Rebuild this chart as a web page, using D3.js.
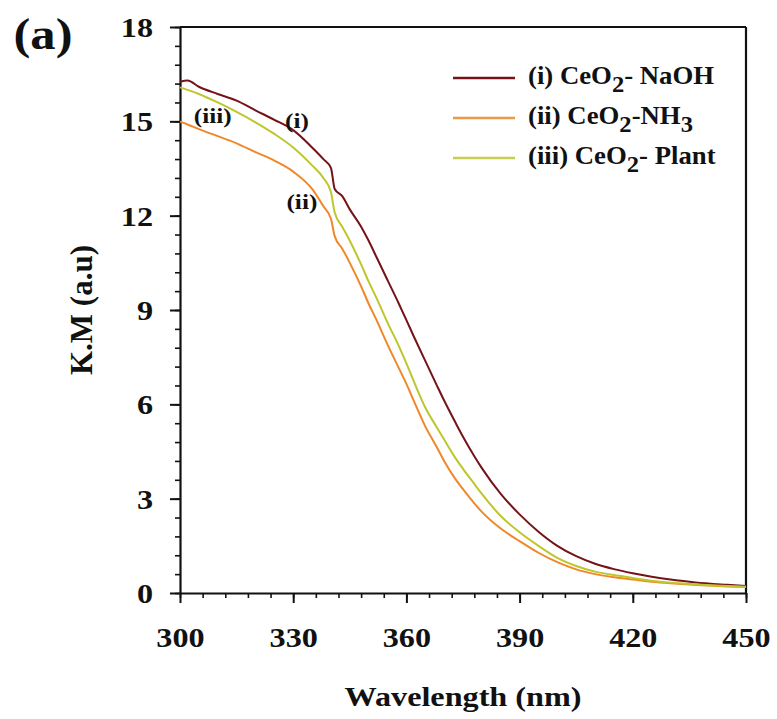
<!DOCTYPE html>
<html>
<head>
<meta charset="utf-8">
<script src="https://cdn.jsdelivr.net/npm/d3@7"></script>
<style>
  body { margin: 0; background: #fff; }
  text { font-family: "Liberation Serif", "Times New Roman", serif; font-weight: bold; fill: #111; }
</style>
</head>
<body>
<div id="chart"></div>
<script>
// wavelength grid (nm) shared by the three spectra
const wavelength = [300,302,305,310,315,320,325,330,335,338,340,341,343,345,348,350,352,355,358,360,362,365,368,370,373,375,378,380,385,390,395,400,405,410,415,420,425,430,435,440,445,450];

// K.M values
const naoh  = [16.26,16.3,16.1,15.87,15.66,15.35,15.05,14.72,14.17,13.8,13.52,12.85,12.62,12.2,11.65,11.2,10.7,9.95,9.2,8.68,8.15,7.38,6.62,6.12,5.42,4.97,4.35,3.97,3.15,2.5,1.95,1.5,1.17,0.93,0.76,0.63,0.52,0.43,0.36,0.3,0.26,0.22];
const nh3   = [14.99,14.9,14.75,14.53,14.3,14.02,13.75,13.4,12.85,12.3,11.9,11.35,10.95,10.5,9.75,9.2,8.7,7.9,7.15,6.65,6.1,5.3,4.65,4.2,3.62,3.3,2.85,2.58,2.05,1.65,1.28,0.98,0.75,0.6,0.5,0.43,0.36,0.31,0.27,0.24,0.21,0.19];
const plant = [16.08,16.0,15.87,15.6,15.3,14.97,14.6,14.17,13.6,13.2,12.75,12.1,11.65,11.2,10.45,9.9,9.4,8.6,7.85,7.3,6.72,5.9,5.28,4.88,4.29,3.95,3.47,3.15,2.45,1.93,1.5,1.12,0.86,0.68,0.57,0.48,0.39,0.33,0.29,0.25,0.22,0.2];

const xTicks = [300,330,360,390,420,450];
const yTicks = [0,3,6,9,12,15,18];

// legend labels: [text, isSubscript]
const legendLabels = [
  [["(i) CeO",0],["2",1],["- NaOH",0]],
  [["(ii) CeO",0],["2",1],["-NH",0],["3",1]],
  [["(iii) CeO",0],["2",1],["- Plant",0]]
];
const colors = ["#741318", "#f0882a", "#bdc72c"];
const legendColors = ["#741318", "#e89a44", "#c8cf4e"];

var margin = {top: 27, right: 31, bottom: 126, left: 180},
    width = 777 - margin.left - margin.right,
    height = 719 - margin.top - margin.bottom;

var svg = d3.select("#chart")
  .append("svg")
    .attr("width", 777)
    .attr("height", 719)
  .append("g")
    .attr("transform", "translate(" + margin.left + "," + margin.top + ")");

var x = d3.scaleLinear().domain([300, 450]).range([0, width]);
var y = d3.scaleLinear().domain([0, 18]).range([height, 0]);

const sx = 1.15; // the original lettering is a bit wider than Liberation Serif

// minor ticks
svg.append("g")
  .attr("transform", "translate(0," + height + ")")
  .call(d3.axisBottom(x).tickValues(d3.range(300, 451, 6)).tickSize(5).tickFormat(""))
  .call(g => g.select(".domain").remove())
  .selectAll("line").attr("stroke", "#111").attr("stroke-width", 1.6);
svg.append("g")
  .call(d3.axisLeft(y).tickValues(d3.range(0, 18.01, 0.6)).tickSize(5).tickFormat(""))
  .call(g => g.select(".domain").remove())
  .selectAll("line").attr("stroke", "#111").attr("stroke-width", 1.6);

// X axis
var xAxis = svg.append("g")
  .attr("transform", "translate(0," + height + ")")
  .call(d3.axisBottom(x).tickValues(xTicks).tickSize(10).tickSizeOuter(0));
xAxis.select(".domain").attr("stroke", "#111").attr("stroke-width", 2.2);
xAxis.selectAll("line").attr("stroke", "#111").attr("stroke-width", 2);
xAxis.selectAll("text")
  .attr("y", 0).attr("dy", 0)
  .attr("transform", "translate(0,54) scale(" + sx + ",1)")
  .style("font-size", "28px")
  .style("font-family", "'Liberation Serif', serif")
  .style("font-weight", "bold")
  .attr("fill", "#111");

// Y axis
var yAxis = svg.append("g")
  .call(d3.axisLeft(y).tickValues(yTicks).tickSize(10).tickSizeOuter(0));
yAxis.select(".domain").attr("stroke", "#111").attr("stroke-width", 2.2);
yAxis.selectAll("line").attr("stroke", "#111").attr("stroke-width", 2);
yAxis.selectAll("text")
  .attr("x", 0).attr("dy", "0.34em")
  .attr("transform", "translate(-27,0) scale(" + sx + ",1)")
  .style("font-size", "28px")
  .style("font-family", "'Liberation Serif', serif")
  .style("font-weight", "bold")
  .attr("fill", "#111");

// frame top and right
svg.append("line").attr("x1", 0).attr("x2", width).attr("y1", 0).attr("y2", 0)
  .attr("stroke", "#111").attr("stroke-width", 2.2);
svg.append("line").attr("x1", width).attr("x2", width).attr("y1", 0).attr("y2", height)
  .attr("stroke", "#111").attr("stroke-width", 2.2);

// curves
var line = d3.line()
  .curve(d3.curveMonotoneX)
  .x(function(d) { return x(d[0]); })
  .y(function(d) { return y(d[1]); });

[naoh, nh3, plant].forEach(function(vals, i) {
  svg.append("path")
    .datum(d3.zip(wavelength, vals))
    .attr("fill", "none")
    .attr("stroke", colors[i])
    .attr("stroke-width", 2)
    .attr("d", line);
});

// curve tags
[["(i)", 331, 15.0], ["(ii)", 332.3, 12.44], ["(iii)", 308.7, 15.17]].forEach(function(t) {
  svg.append("text")
    .attr("transform", "translate(" + x(t[1]) + "," + y(t[2]) + ") scale(" + sx + ",1)")
    .attr("text-anchor", "middle")
    .attr("dy", "0.32em")
    .style("font-size", "22px")
    .text(t[0]);
});

// legend
legendLabels.forEach(function(parts, i) {
  var ly = 51 + i * 40;
  svg.append("line")
    .attr("x1", 273).attr("x2", 335)
    .attr("y1", ly).attr("y2", ly)
    .attr("stroke", legendColors[i]).attr("stroke-width", 2.6);
  var t = svg.append("text")
    .attr("transform", "translate(348," + (ly + 6) + ") scale(1.07,1)")
    .style("font-size", "25px");
  var sub = false;
  parts.forEach(function(p) {
    var ts = t.append("tspan").text(p[0]);
    if (p[1]) { ts.attr("dy", 8).style("font-size", "23px"); sub = true; }
    else if (sub) { ts.attr("dy", -8); sub = false; }
  });
});

// axis titles
svg.append("text")
  .attr("transform", "translate(" + (width / 2) + ",679) scale(" + sx + ",1)")
  .attr("text-anchor", "middle")
  .style("font-size", "28px")
  .text("Wavelength (nm)");

svg.append("text")
  .attr("transform", "translate(-88," + (height / 2) + ") rotate(-90)")
  .attr("text-anchor", "middle")
  .style("font-size", "31px")
  .text("K.M (a.u)");

// panel label
svg.append("text")
  .attr("transform", "translate(-137,22) scale(" + sx + ",1)")
  .attr("text-anchor", "middle")
  .style("font-size", "44px")
  .text("(a)");
</script>
</body>
</html>
